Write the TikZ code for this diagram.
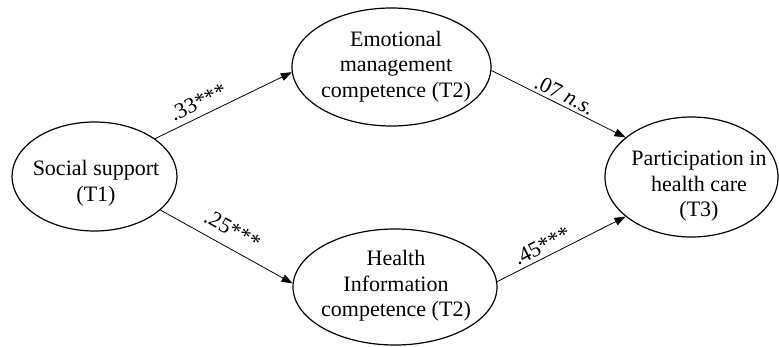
\documentclass[tikz,border=0pt]{standalone}
\usepackage{fontspec}
\setmainfont{Liberation Serif}
\usetikzlibrary{arrows.meta,shapes.geometric}
\begin{document}
\begin{tikzpicture}[x=1pt,y=-1pt,
  ell/.style={draw, ellipse, line width=1.2pt, inner sep=0pt},
  txt/.style={align=center, inner sep=0pt, font=\fontsize{22}{25.5}\selectfont},
  arr/.style={line width=0.8pt, -{Triangle[length=11pt,width=8pt]}},
  lab/.style={sloped, inner sep=2pt, font=\fontsize{22}{25}\selectfont}]
\useasboundingbox (0,0) rectangle (779,347);
\node[ell, minimum width=165pt, minimum height=109pt] (soc) at (94.5,176.5) {};
\node[ell, minimum width=199pt, minimum height=118pt] (emo) at (391.5,67) {};
\node[ell, minimum width=204pt, minimum height=116pt] (hea) at (395,287) {};
\node[ell, minimum width=173pt, minimum height=120pt] (par) at (691.5,177) {};
\node[txt] (soct) at (96,183) {Social support\\(T1)};
\node[txt] (emot) at (396,66.3) {Emotional\\management\\competence (T2)};
\node[txt] (heat) at (396,286) {Health\\Information\\competence (T2)};
\node[txt] (part) at (699,186.4) {Participation in\\health care\\(T3)};
\draw[arr] (soc.32.5) -- (emo.183) node[lab, pos=.36, above=4pt] {.33***};
\draw[arr] (soc.-27) -- (hea.178) node[lab, pos=.48, above=8pt] {.25***};
\draw[arr] (emo.-2) -- (par.149) node[lab, pos=.51, above=1pt] {.07 \textit{n.s.}};
\draw[arr] (hea.3) -- (par.211.6) node[lab, pos=.39, above=2pt] {.45***};
\end{tikzpicture}
\end{document}
